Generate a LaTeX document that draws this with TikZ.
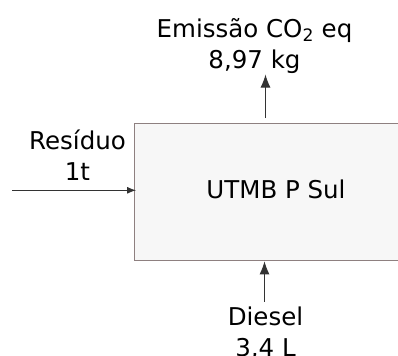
\documentclass[tikz,border=0pt]{standalone}
\usepackage{fontspec}
\setmainfont{DejaVu Sans}
\usepackage{xcolor}
\usepackage{tikz}
\usetikzlibrary{arrows.meta}

\definecolor{boxfill}{HTML}{F7F7F7}
\definecolor{boxline}{HTML}{8E8080}

\begin{document}
\begin{tikzpicture}[x=1bp, y=-1bp,
    lbl/.style={inner sep=0pt, align=center, font=\fontsize{24.5bp}{31bp}\selectfont},
    blockbox/.style={draw=boxline, fill=boxfill, line width=1.2bp, inner sep=0pt},
    flow/.style={draw=black!80, line width=0.9bp, -{Latex[length=13bp, width=10bp]}},
    flowsmall/.style={draw=black!80, line width=0.9bp, -{Latex[length=9bp, width=7bp]}}]
        \useasboundingbox (0,0) rectangle (398,356);
        \clip (0,0) rectangle (398,356);
        % process block
        \node[blockbox, anchor=north west, minimum width=300bp, minimum height=137.5bp] (utmb) at (134,122.7) {};
        \node[lbl, anchor=base] (utmbname) at (276,198) {UTMB P Sul};
        % labels
        \node[lbl, anchor=base] (emis) at (254.5,68) {Emissão CO\textsubscript{2} eq\\8,97 kg};
        \node[lbl, anchor=base] (resid) at (77.5,180) {Resíduo\\1t};
        \node[lbl, anchor=base] (diesel) at (265.5,356) {Diesel\\3,4 L};
        % connector ends
        \coordinate (emisfrom) at (265.5,118);
        \coordinate (emisto) at (265.5,74.5);
        \coordinate (residfrom) at (12,190.3);
        \coordinate (dieselfrom) at (264.5,301.7);
        \draw[flow] (emisfrom) -- (emisto);
        \draw[flowsmall] (residfrom) -- ([xshift=2bp]residfrom -| utmb.west);
        \draw[flow] (dieselfrom) -- (dieselfrom |- utmb.south);
      \end{tikzpicture}
\end{document}
